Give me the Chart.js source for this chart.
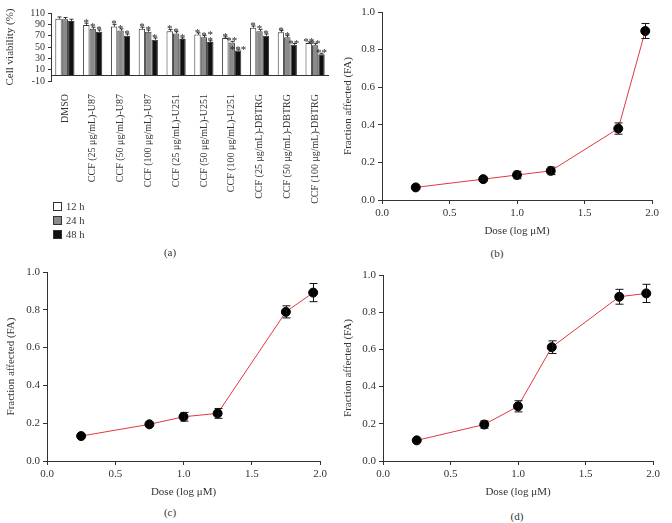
<!DOCTYPE html>
<html>
<head>
<meta charset="utf-8">
<script src="https://cdn.jsdelivr.net/npm/chart.js@4.4.1/dist/chart.umd.min.js"></script>
<style>
  body { margin: 0; background: #fff; }
  #page { position: relative; width: 672px; height: 523px; overflow: hidden; font-family: "Liberation Serif", serif; color: #333; }
  canvas { position: absolute; }
  .tag { position: absolute; font-size: 11px; transform: translate(-50%, -50%); }
  .legend { position: absolute; left: 53px; top: 200px; font-size: 10.5px; line-height: 14px; }
  .legend span { display: inline-block; width: 7px; height: 7px; border: 1px solid #333; margin-right: 4px; vertical-align: -1px; }
</style>
</head>
<body>
<div id="page">
  <canvas id="chartA" width="340" height="205" style="left:0;top:0"></canvas>
  <canvas id="chartB" width="332" height="240" style="left:340px;top:0"></canvas>
  <canvas id="chartC" width="340" height="241" style="left:0;top:260px"></canvas>
  <canvas id="chartD" width="332" height="241" style="left:340px;top:260px"></canvas>
  <div class="legend">
    <div><span style="background:#fff"></span>12 h</div>
    <div><span style="background:#8a8a8a"></span>24 h</div>
    <div><span style="background:#111"></span>48 h</div>
  </div>
  <div class="tag" style="left:170px;top:252px">(a)</div>
  <div class="tag" style="left:497px;top:253px">(b)</div>
  <div class="tag" style="left:170px;top:512px">(c)</div>
  <div class="tag" style="left:517px;top:516px">(d)</div>
</div>
<script>
// panel (a): cell viability
const groups = ['DMSO', 'CCF (25 μg/mL)-U87', 'CCF (50 μg/mL)-U87', 'CCF (100 μg/mL)-U87',
  'CCF (25 μg/mL)-U251', 'CCF (50 μg/mL)-U251', 'CCF (100 μg/mL)-U251',
  'CCF (25 μg/mL)-DBTRG', 'CCF (50 μg/mL)-DBTRG', 'CCF (100 μg/mL)-DBTRG'];
const via12 = [100, 89, 86, 82, 78, 72, 66, 84, 76, 57];
const via24 = [99, 82, 79, 77, 74, 67, 58, 78, 67, 53];
const via48 = [96, 77, 70, 63, 64, 59, 44, 70, 54, 37];
const err12 = [3, 3, 4, 3, 3, 3, 2, 3, 3, 2];
const err24 = [3, 3, 3, 3, 3, 3, 2, 3, 3, 3];
const err48 = [3, 3, 3, 3, 2, 2, 1, 3, 2, 2];
const stars12 = ['', '*', '*', '*', '*', '*', '*', '*', '*', '**'];
const stars24 = ['', '*', '*', '*', '*', '*', '**', '*', '*', '**'];
const stars48 = ['', '*', '*', '*', '*', '*\n*', '***', '*', '**', '**'];
const viaTicks = [-10, 10, 30, 50, 70, 90, 110];

// panels (b), (c), (d): fraction affected vs dose
const doses = [0.25, 0.75, 1.0, 1.25, 1.75, 1.95];
const faB = [0.067, 0.111, 0.133, 0.155, 0.38, 0.899];
const errB = [0, 0.006, 0.02, 0.02, 0.03, 0.04];
const faC = [0.132, 0.194, 0.234, 0.252, 0.789, 0.891];
const errC = [0, 0.008, 0.023, 0.026, 0.032, 0.048];
const faD = [0.111, 0.196, 0.294, 0.612, 0.883, 0.901];
const errD = [0, 0.02, 0.03, 0.034, 0.04, 0.049];
const fracTicks = [0, 0.2, 0.4, 0.6, 0.8, 1.0];
const doseTicks = [0, 0.5, 1.0, 1.5, 2.0];

const serif = '"Liberation Serif", serif';
const ink = '#333';

const barMarks = {
  id: 'barMarks',
  afterDatasetsDraw(chart) {
    const ctx = chart.ctx, ys = chart.scales.y, area = chart.chartArea;
    ctx.save();
    ctx.strokeStyle = ink;
    ctx.fillStyle = '#222';
    ctx.lineWidth = 1;
    const y0 = Math.round(ys.getPixelForValue(0)) + 0.5;
    ctx.beginPath();
    ctx.moveTo(area.left, y0);
    ctx.lineTo(area.right, y0);
    ctx.stroke();
    ctx.font = '11px ' + serif;
    ctx.textAlign = 'center';
    chart.data.datasets.forEach((ds, di) => {
      chart.getDatasetMeta(di).data.forEach((bar, i) => {
        const top = ys.getPixelForValue(ds.data[i] + ds.errors[i]);
        const x = Math.round(bar.x) + 0.5;
        ctx.beginPath();
        ctx.moveTo(x, bar.y);
        ctx.lineTo(x, top);
        ctx.moveTo(x - 2, top);
        ctx.lineTo(x + 2, top);
        ctx.stroke();
        const rows = ds.stars[i].split('\n').reverse();
        rows.forEach((s, k) => ctx.fillText(s, bar.x, top + 3 - k * 6));
      });
    });
    ctx.restore();
  }
};

const errorBars = {
  id: 'errorBars',
  afterDatasetsDraw(chart) {
    const ctx = chart.ctx, ys = chart.scales.y;
    ctx.save();
    ctx.strokeStyle = '#111';
    ctx.lineWidth = 1;
    chart.data.datasets.forEach((ds, di) => {
      chart.getDatasetMeta(di).data.forEach((pt, i) => {
        const e = ds.errors[i];
        if (!e) return;
        const v = ds.data[i].y;
        const y1 = ys.getPixelForValue(v + e), y2 = ys.getPixelForValue(v - e);
        const x = Math.round(pt.x) + 0.5;
        ctx.beginPath();
        ctx.moveTo(x, y1); ctx.lineTo(x, y2);
        ctx.moveTo(x - 4, y1); ctx.lineTo(x + 4, y1);
        ctx.moveTo(x - 4, y2); ctx.lineTo(x + 4, y2);
        ctx.stroke();
      });
    });
    ctx.restore();
  }
};

new Chart(document.getElementById('chartA'), {
  type: 'bar',
  data: {
    labels: groups,
    datasets: [
      { label: '12 h', data: via12, errors: err12, stars: stars12, backgroundColor: '#fff' },
      { label: '24 h', data: via24, errors: err24, stars: stars24, backgroundColor: '#8a8a8a' },
      { label: '48 h', data: via48, errors: err48, stars: stars48, backgroundColor: '#111' }
    ].map(d => Object.assign(d, { borderColor: ink, borderWidth: 1, categoryPercentage: 0.69, barPercentage: 1.0 }))
  },
  options: {
    responsive: false,
    animation: false,
    layout: { padding: { top: 13, right: 11, left: 0, bottom: 0 } },
    plugins: { legend: { display: false }, tooltip: { enabled: false } },
    scales: {
      x: {
        afterFit: s => { s.height = 124; },
        grid: { display: false },
        border: { display: false },
        ticks: { autoSkip: false, minRotation: 90, maxRotation: 90, padding: 5, color: ink, font: { family: serif, size: 10 } }
      },
      y: {
        min: -10, max: 110,
        afterFit: s => { s.width = 51; },
        afterBuildTicks: s => { s.ticks = viaTicks.map(v => ({ value: v })); },
        grid: { drawOnChartArea: false, tickLength: 3, color: ink },
        border: { color: ink },
        ticks: { autoSkip: false, padding: 3, color: ink, font: { family: serif, size: 10 } },
        title: { display: true, text: 'Cell viability (%)', color: ink, font: { family: serif, size: 11 }, padding: { top: 4, bottom: 0 } }
      }
    }
  },
  plugins: [barMarks]
});

function fractionChart(id, fa, err, box) {
  return new Chart(document.getElementById(id), {
    type: 'line',
    data: {
      datasets: [{
        data: doses.map((d, i) => ({ x: d, y: fa[i] })),
        errors: err,
        borderColor: '#e2383f',
        borderWidth: 1,
        pointRadius: 4.5,
        pointBackgroundColor: '#000',
        pointBorderColor: '#000',
        tension: 0
      }]
    },
    options: {
      responsive: false,
      animation: false,
      layout: { padding: { top: box.top, right: box.right, left: 0, bottom: 0 } },
      plugins: { legend: { display: false }, tooltip: { enabled: false } },
      scales: {
        x: {
          type: 'linear', min: 0, max: 2,
          afterFit: s => { s.height = 40; },
          afterBuildTicks: s => { s.ticks = doseTicks.map(v => ({ value: v })); },
          grid: { drawOnChartArea: false, tickLength: 4, color: ink },
          border: { color: ink },
          ticks: { padding: 3, color: ink, font: { family: serif, size: 11 }, callback: v => Number(v).toFixed(1) },
          title: { display: true, text: 'Dose (log μM)', color: ink, font: { family: serif, size: 11 }, padding: { top: 0, bottom: 2 } }
        },
        y: {
          min: 0, max: 1,
          afterFit: s => { s.width = box.left; },
          afterBuildTicks: s => { s.ticks = fracTicks.map(v => ({ value: v })); },
          grid: { drawOnChartArea: false, tickLength: 4, color: ink },
          border: { color: ink },
          ticks: { padding: 3, color: ink, font: { family: serif, size: 11 }, callback: v => Number(v).toFixed(1) },
          title: { display: true, text: 'Fraction affected (FA)', color: ink, font: { family: serif, size: 11 }, padding: { top: box.title, bottom: 0 } }
        }
      }
    },
    plugins: [errorBars]
  });
}

fractionChart('chartB', faB, errB, { left: 42, top: 12, right: 20, title: 1.5 });
fractionChart('chartC', faC, errC, { left: 47, top: 12, right: 20, title: 5 });
fractionChart('chartD', faD, errD, { left: 43, top: 15, right: 19, title: 1.5 });
</script>
</body>
</html>
